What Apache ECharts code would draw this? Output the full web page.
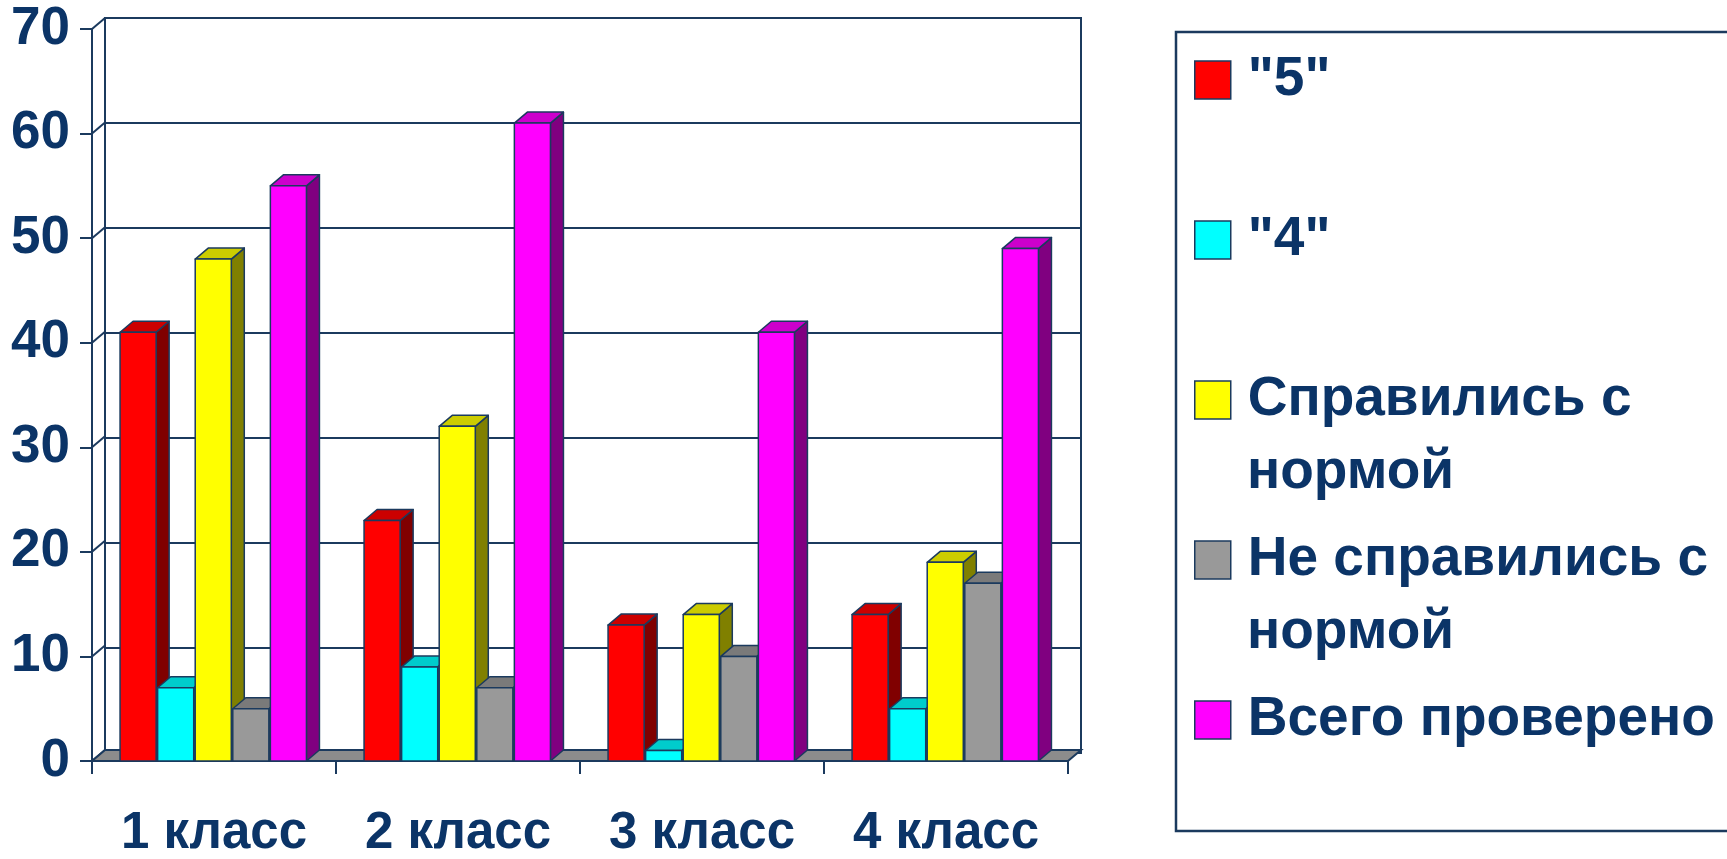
<!DOCTYPE html>
<html>
<head>
<meta charset="utf-8">
<script src="https://cdn.jsdelivr.net/npm/echarts@6/dist/echarts.min.js"></script>
<style>
html,body{margin:0;padding:0;background:#ffffff;}
#chart{width:1727px;height:859px;}
</style>
</head>
<body>
<div id="chart"></div>
<script>
// ---------- data ----------
const categories = ['1 класс', '2 класс', '3 класс', '4 класс'];
const seriesLines = [['"5"'], ['"4"'], ['Справились с', 'нормой'], ['Не справились с', 'нормой'], ['Всего проверено']];
const grade5 = [41, 23, 13, 14];
const grade4 = [7, 9, 1, 5];
const passedNorm = [48, 32, 14, 19];
const failedNorm = [5, 7, 10, 17];
const totalChecked = [55, 61, 41, 49];
const yTicks = [0, 10, 20, 30, 40, 50, 60, 70];

// ---------- styles ----------
const seriesValues = [grade5, grade4, passedNorm, failedNorm, totalChecked];
const seriesNames = seriesLines.map(l => l.join(' '));
const faces = [
  ['#FF0000', '#CC0000', '#800000'],
  ['#00FFFF', '#00CCCC', '#008080'],
  ['#FFFF00', '#CCCC00', '#808000'],
  ['#999999', '#7A7A7A', '#4D4D4D'],
  ['#FF00FF', '#CC00CC', '#800080']
];
const NAVY = '#1b3a5e';
const TEXT = '#0b3467';
const FONT = '"Liberation Sans", Arial, Helvetica, sans-serif';
const DX = 13, DY = -11;          // depth offset of the pseudo-3D
const GROUP = 0.77;               // share of a category band used by bars
const nS = seriesValues.length;

const LEG_LEFT = 1194, LEG_CENTER0 = 80, LEG_PITCH = 160, LEG_FONT = 55, LINE2 = 73;

function barSeries(k) {
  return {
    type: 'custom',
    name: seriesNames[k],
    xAxisIndex: 0, yAxisIndex: 0,
    z: 3,
    silent: true,
    itemStyle: { color: faces[k][0], borderColor: NAVY, borderWidth: 1.5 },
    encode: { x: 0, y: 1 },
    data: seriesValues[k].map((v, i) => [i, v]),
    renderItem: function (params, api) {
      const i = api.value(0), v = api.value(1);
      const base = api.coord([i, 0]);
      const top = api.coord([i, v]);
      const cw = api.size([1, 0])[0];
      const bw = cw * GROUP / nS;
      const x0 = base[0] - cw * GROUP / 2 + k * bw;
      const w = bw - 1.5;
      const yb = base[1], yt = top[1];
      const st = { stroke: NAVY, lineWidth: 1.5, lineJoin: 'round' };
      return {
        type: 'group',
        children: [
          { type: 'polygon', z2: 3 * k,
            shape: { points: [[x0 + w, yt], [x0 + w + DX, yt + DY], [x0 + w + DX, yb + DY], [x0 + w, yb]] },
            style: Object.assign({ fill: faces[k][2] }, st) },
          { type: 'polygon', z2: 3 * k + 1,
            shape: { points: [[x0, yt], [x0 + w, yt], [x0 + w + DX, yt + DY], [x0 + DX, yt + DY]] },
            style: Object.assign({ fill: faces[k][1] }, st) },
          { type: 'rect', z2: 3 * k + 2,
            shape: { x: x0, y: yt, width: w, height: yb - yt },
            style: Object.assign({ fill: faces[k][0] }, st) }
        ]
      };
    }
  };
}

const frameSeries = {
  type: 'custom',
  name: 'frame',
  xAxisIndex: 0, yAxisIndex: 0,
  z: 1,
  silent: true,
  encode: { x: 0, y: 1 },
  data: yTicks.map(v => [0, v]),
  renderItem: function (params, api) {
    const cs = params.coordSys;
    const p = api.coord([0, api.value(1)]);
    const y = p[1];
    const children = [{
      type: 'line',
      shape: { x1: cs.x, y1: y, x2: cs.x + DX, y2: y + DY },
      style: { stroke: NAVY, lineWidth: 2 }
    }];
    if (params.dataIndex === 0) {
      children.push({
        type: 'polygon',
        shape: { points: [[cs.x, y], [cs.x + cs.width, y], [cs.x + cs.width + DX, y + DY], [cs.x + DX, y + DY]] },
        style: { fill: '#8C8C8C', stroke: NAVY, lineWidth: 2 }
      });
    }
    return { type: 'group', children: children };
  }
};

const labelFont = { fontFamily: FONT, fontWeight: 'bold', color: TEXT };

const graphics = [
  { type: 'rect', silent: true, z: 0,
    shape: { x: 1176, y: 32, width: 620, height: 799 },
    style: { fill: 'none', stroke: NAVY, lineWidth: 2.5 } }
];
seriesLines.forEach((lines, k) => {
  for (let j = 1; j < lines.length; j++) {
    graphics.push({
      type: 'text', silent: true, z: 5,
      x: 1247,
      y: LEG_CENTER0 + k * LEG_PITCH + j * LINE2,
      style: { text: lines[j], fill: TEXT, font: 'bold ' + LEG_FONT + 'px ' + FONT, verticalAlign: 'middle', align: 'left' }
    });
  }
});

const option = {
  backgroundColor: '#ffffff',
  animation: false,
  grid: [
    { left: 92, top: 29, width: 976, height: 735, show: false },
    { left: 105, top: 18, width: 976, height: 735, show: true, borderColor: NAVY, borderWidth: 2, backgroundColor: '#ffffff' }
  ],
  xAxis: [
    { gridIndex: 0, type: 'category', data: categories, boundaryGap: true,
      axisLine: { show: true, lineStyle: { color: NAVY, width: 2 } },
      axisTick: { show: true, length: 13, lineStyle: { color: NAVY, width: 2 } },
      axisLabel: Object.assign({ fontSize: 51, margin: 47, lineHeight: 51 }, labelFont),
      splitLine: { show: false } },
    { gridIndex: 1, type: 'category', data: categories, show: false }
  ],
  yAxis: [
    { gridIndex: 0, type: 'value', min: yTicks[0], max: yTicks[yTicks.length - 1], interval: yTicks[1] - yTicks[0],
      axisLine: { show: true, lineStyle: { color: NAVY, width: 2 } },
      axisTick: { show: true, length: 12, lineStyle: { color: NAVY, width: 2 } },
      axisLabel: Object.assign({ fontSize: 53, margin: 22, lineHeight: 53 }, labelFont),
      splitLine: { show: false } },
    { gridIndex: 1, type: 'value', min: yTicks[0], max: yTicks[yTicks.length - 1], interval: yTicks[1] - yTicks[0],
      axisLine: { show: false }, axisTick: { show: false }, axisLabel: { show: false },
      splitLine: { show: true, lineStyle: { color: NAVY, width: 2 } } }
  ],
  legend: {
    orient: 'vertical',
    left: LEG_LEFT, top: LEG_CENTER0 - LEG_FONT / 2,
    padding: 0,
    itemWidth: 36, itemHeight: 38,
    itemGap: LEG_PITCH - LEG_FONT,
    icon: 'rect',
    selectedMode: false,
    data: seriesNames,
    formatter: function (name) { return seriesLines[seriesNames.indexOf(name)][0]; },
    itemStyle: { borderColor: NAVY, borderWidth: 1.5 },
    textStyle: { fontSize: LEG_FONT, fontWeight: 'bold', fontFamily: FONT, color: TEXT, lineHeight: LEG_FONT, padding: [0, 0, 0, 12] }
  },
  graphic: graphics,
  series: [frameSeries].concat(seriesValues.map((v, k) => barSeries(k)))
};

const chart = echarts.init(document.getElementById('chart'));
chart.setOption(option);
</script>
</body>
</html>
